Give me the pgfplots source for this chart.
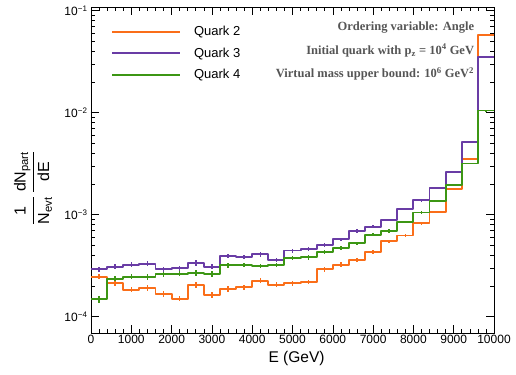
\documentclass[border=0pt]{standalone}
\usepackage{pgfplots}
\pgfplotsset{compat=1.18}
\usepackage{pgfplotstable}
\usepackage{amsmath}
\usepackage{fontspec}
\setmainfont{Liberation Sans}
\newfontfamily\timesf{Liberation Serif}
\definecolor{qorange}{RGB}{250,110,25}
\definecolor{qpurple}{RGB}{105,60,165}
\definecolor{qgreen}{RGB}{60,150,20}
\definecolor{anngray}{RGB}{85,85,85}

% x = bin left edge, y = content, e = relative error
\pgfplotstableread{
x y e
0 2.47e-4 0.06
400 2.12e-4 0.06
800 1.84e-4 0.06
1200 1.91e-4 0.06
1600 1.67e-4 0.06
2000 1.50e-4 0.06
2400 2.05e-4 0.06
2800 1.64e-4 0.06
3200 1.87e-4 0.06
3600 1.94e-4 0.06
4000 2.25e-4 0.055
4400 2.06e-4 0.055
4800 2.14e-4 0.055
5200 2.19e-4 0.055
5600 2.92e-4 0.05
6000 3.24e-4 0.05
6400 3.62e-4 0.045
6800 4.31e-4 0.04
7200 5.48e-4 0.035
7600 6.25e-4 0.035
8000 8.24e-4 0.03
8400 1.06e-3 0.025
8800 1.79e-3 0.02
9200 3.52e-3 0.015
9600 5.78e-2 0.005
10000 5.78e-2 0
}\quarktwo

\pgfplotstableread{
x y e
0 2.92e-4 0.06
400 3.09e-4 0.06
800 3.24e-4 0.06
1200 3.31e-4 0.06
1600 2.92e-4 0.06
2000 2.98e-4 0.06
2400 3.36e-4 0.06
2800 3.09e-4 0.06
3200 3.96e-4 0.05
3600 3.87e-4 0.05
4000 4.09e-4 0.05
4400 3.60e-4 0.05
4800 4.46e-4 0.045
5200 4.65e-4 0.045
5600 5.08e-4 0.04
6000 5.74e-4 0.04
6400 6.92e-4 0.035
6800 7.62e-4 0.035
7200 8.87e-4 0.03
7600 1.14e-3 0.03
8000 1.38e-3 0.025
8400 1.84e-3 0.02
8800 2.64e-3 0.018
9200 5.16e-3 0.012
9600 3.49e-2 0.005
10000 3.49e-2 0
}\quarkthree

\pgfplotstableread{
x y e
0 1.48e-4 0.07
400 2.36e-4 0.06
800 2.47e-4 0.06
1200 2.45e-4 0.06
1600 2.61e-4 0.06
2000 2.64e-4 0.06
2400 2.69e-4 0.06
2800 2.62e-4 0.06
3200 3.19e-4 0.05
3600 3.21e-4 0.05
4000 3.14e-4 0.05
4400 3.21e-4 0.05
4800 3.75e-4 0.05
5200 3.82e-4 0.05
5600 4.28e-4 0.045
6000 4.75e-4 0.045
6400 5.24e-4 0.04
6800 6.37e-4 0.035
7200 6.92e-4 0.035
7600 8.48e-4 0.03
8000 1.05e-3 0.025
8400 1.36e-3 0.02
8800 1.94e-3 0.018
9200 3.18e-3 0.015
9600 1.05e-2 0.008
10000 1.05e-2 0
}\quarkfour

\begin{document}
\begin{tikzpicture}
\begin{axis}[
  scale only axis,
  width=403pt, height=326pt,
  xmin=0, xmax=10000,
  ymode=log, ymin=6.92e-5, ymax=0.1087,
  scaled x ticks=false,
  xtick={0,1000,...,10000},
  xticklabels={0,1000,2000,3000,4000,5000,6000,7000,8000,9000,10000},
  minor x tick num=4,
  ytick={1e-4,1e-3,1e-2,1e-1},
  yticklabels={10\textsuperscript{−4},10\textsuperscript{−3},10\textsuperscript{−2},10\textsuperscript{−1}},
  tick align=inside,
  major tick length=8pt, minor tick length=4pt,
  tick style={black, line width=0.6pt},
  axis line style={line width=0.8pt},
  ticklabel style={font=\fontsize{12}{14}\selectfont},
  xticklabel style={yshift=1pt},
  xlabel={E (GeV)},
  xlabel style={font=\fontsize{15.5}{18}\selectfont, at={(axis description cs:0.51,-0.077)}, anchor=center},
  ylabel={$\displaystyle\frac{\text{1}}{\text{N}_{\text{evt}}}\,\frac{\text{dN}_{\text{part}}}{\text{dE}}$},
  ylabel style={font=\fontsize{16}{19}\selectfont, at={(axis description cs:-0.144,0.445)}, anchor=center},
  legend style={draw=none, fill=none, at={(axis description cs:0.0496,0.947)}, anchor=north west,
    font=\fontsize{13}{15}\selectfont, inner sep=0pt, row sep=6.5pt,
    nodes={inner sep=2pt}},
  legend cell align=left,
  legend image code/.code={\draw[#1] (0pt,0pt) -- (68pt,0pt); \path (79pt,0pt);},
]
\addplot[draw=qorange, line width=1.9pt, line join=round, const plot mark left, mark=none] table[x=x,y=y] {\quarktwo};
\addlegendentry{Quark 2}
\addplot[draw=qpurple, line width=1.9pt, line join=round, const plot mark left, mark=none] table[x=x,y=y] {\quarkthree};
\addlegendentry{Quark 3}
\addplot[draw=qgreen, line width=1.9pt, line join=round, const plot mark left, mark=none] table[x=x,y=y] {\quarkfour};
\addlegendentry{Quark 4}

\addplot[draw=none, mark=none, forget plot,
  error bars/.cd, y dir=both, y explicit relative, error mark=none,
  error bar style={draw=qorange, line width=1.5pt}]
  table[x expr=\thisrow{x}+200, y=y, y error=e] {\quarktwo};
\addplot[draw=none, mark=none, forget plot,
  error bars/.cd, y dir=both, y explicit relative, error mark=none,
  error bar style={draw=qpurple, line width=1.5pt}]
  table[x expr=\thisrow{x}+200, y=y, y error=e] {\quarkthree};
\addplot[draw=none, mark=none, forget plot,
  error bars/.cd, y dir=both, y explicit relative, error mark=none,
  error bar style={draw=qgreen, line width=1.5pt}]
  table[x expr=\thisrow{x}+200, y=y, y error=e] {\quarkfour};

\node[anchor=base east, inner sep=0pt, text=anngray, font=\timesf\bfseries\fontsize{12.5}{15}\selectfont]
  at (axis description cs:0.951,0.927) {Ordering variable: Angle};
\node[anchor=base east, inner sep=0pt, text=anngray, font=\timesf\bfseries\fontsize{12.5}{15}\selectfont]
  at (axis description cs:0.951,0.855) {Initial quark with p\textsubscript{z} = 10\textsuperscript{4} GeV};
\node[anchor=base east, inner sep=0pt, text=anngray, font=\timesf\bfseries\fontsize{12.5}{15}\selectfont]
  at (axis description cs:0.951,0.784) {Virtual mass upper bound: 10\textsuperscript{6} GeV\textsuperscript{2}};
\end{axis}
\path (current axis.south west) ++(-91pt,-41pt) coordinate (bbA);
\path (current axis.north east) ++(22pt,7pt) coordinate (bbB);
\path (bbA) rectangle (bbB);
\end{tikzpicture}
\end{document}
